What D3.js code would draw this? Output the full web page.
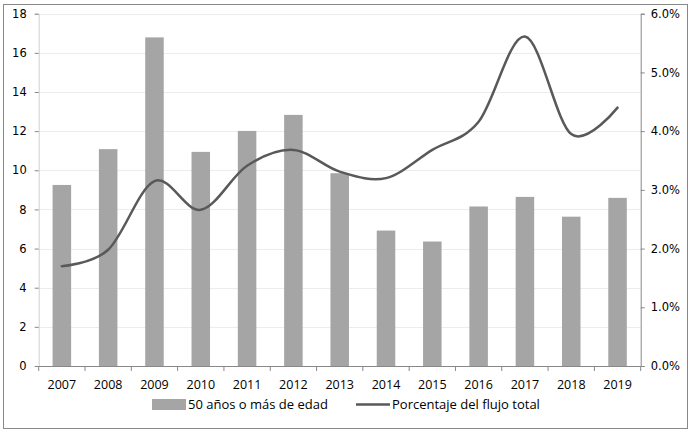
<!DOCTYPE html>
<html><head><meta charset="utf-8">
<script src="https://cdn.jsdelivr.net/npm/d3@7"></script>
<style>body{margin:0;background:#fff}</style>
</head><body><svg id="c" width="692" height="432"></svg>
<script>
const years = ["2007","2008","2009","2010","2011","2012","2013","2014","2015","2016","2017","2018","2019"];
const barValues = [9.25,11.08,16.79,10.94,12.01,12.83,9.85,6.92,6.36,8.15,8.64,7.63,8.59];
const pctValues = [0.0170,0.0198,0.0315,0.0266,0.0341,0.0368,0.0331,0.0320,0.0368,0.0416,0.0561,0.0395,0.0440];
const leftTicks = [0,2,4,6,8,10,12,14,16,18];
const rightTicks = [0,0.01,0.02,0.03,0.04,0.05,0.06];
const barLabel = "50 años o más de edad";
const lineLabel = "Porcentaje del flujo total";

const svg = d3.select("#c");
const L = 38.7, R = 640.7, T = 13.7, B = 366;
svg.append("rect").attr("x",3.5).attr("y",4.5).attr("width",684).attr("height",424)
  .attr("fill","#fff").attr("stroke","#888").attr("stroke-width",1);

const x = d3.scaleBand().domain(years).range([L,R]).paddingInner(0.6).paddingOuter(0.3);
const xb = d3.scaleBand().domain(years).range([L,R]);
const y = d3.scaleLinear().domain([0,18]).range([B,T]);
const y2 = d3.scaleLinear().domain([0,0.06]).range([B,T]);

// gridlines
svg.append("g").selectAll("line").data(leftTicks.slice(1)).join("line")
  .attr("x1",L).attr("x2",R).attr("y1",d=>Math.round(y(d))+0.5).attr("y2",d=>Math.round(y(d))+0.5)
  .attr("stroke","#ececec");

// bars
svg.append("g").selectAll("rect").data(barValues).join("rect")
  .attr("x",(d,i)=>x(years[i])).attr("width",x.bandwidth())
  .attr("y",d=>y(d)).attr("height",d=>B-y(d)).attr("fill","#a5a5a5");

// line
const line = d3.line().x((d,i)=>xb(years[i])+xb.bandwidth()/2).y(d=>y2(d)).curve(d3.curveCardinal.tension(0));
svg.append("path").datum(pctValues).attr("d",line).attr("fill","none")
  .attr("stroke","#595959").attr("stroke-width",2.5).attr("stroke-linecap","round");

// left axis
const gl = svg.append("g").attr("transform",`translate(${L},0)`)
  .call(d3.axisLeft(y).tickValues(leftTicks).tickSize(4).tickPadding(8));
gl.select(".domain").attr("stroke","#d0d0d0");
gl.selectAll(".tick line").attr("stroke","#888");
gl.selectAll("text").attr("font-family","DejaVu Sans, Verdana, sans-serif").attr("font-size",11.5).attr("fill","#000");

// right axis
const gr = svg.append("g").attr("transform",`translate(${R},0)`)
  .call(d3.axisRight(y2).tickValues(rightTicks).tickFormat(d3.format(".1%")).tickSize(4).tickPadding(6));
gr.select(".domain").attr("stroke","#888");
gr.selectAll(".tick line").attr("stroke","#888");
gr.selectAll("text").attr("font-family","DejaVu Sans, Verdana, sans-serif").attr("font-size",11.5).attr("fill","#000");

// bottom axis
const gb = svg.append("g").attr("transform",`translate(0,${B})`)
  .call(d3.axisBottom(xb).tickSize(0).tickPadding(14));
gb.select(".domain").attr("stroke","#888").attr("d",`M${L},0.5H${R}`);
gb.selectAll("text").attr("font-family","Open Sans, Liberation Sans, sans-serif").attr("font-size",12.5).attr("fill","#000");
svg.append("g").selectAll("line").data(d3.range(years.length+1)).join("line")
  .attr("x1",i=>L+i*xb.step()).attr("x2",i=>L+i*xb.step())
  .attr("y1",B).attr("y2",B+5).attr("stroke","#888");

// legend
const lg = svg.append("g").attr("font-family","Open Sans, Liberation Sans, sans-serif").attr("font-size",13).attr("fill","#000");
lg.append("rect").attr("x",152).attr("y",399).attr("width",34).attr("height",11).attr("fill","#a5a5a5");
lg.append("text").attr("x",188).attr("y",409).text(barLabel);
lg.append("line").attr("x1",356).attr("x2",390).attr("y1",404.5).attr("y2",404.5).attr("stroke","#595959").attr("stroke-width",2.5);
lg.append("text").attr("x",392).attr("y",409).text(lineLabel);
</script></body></html>
